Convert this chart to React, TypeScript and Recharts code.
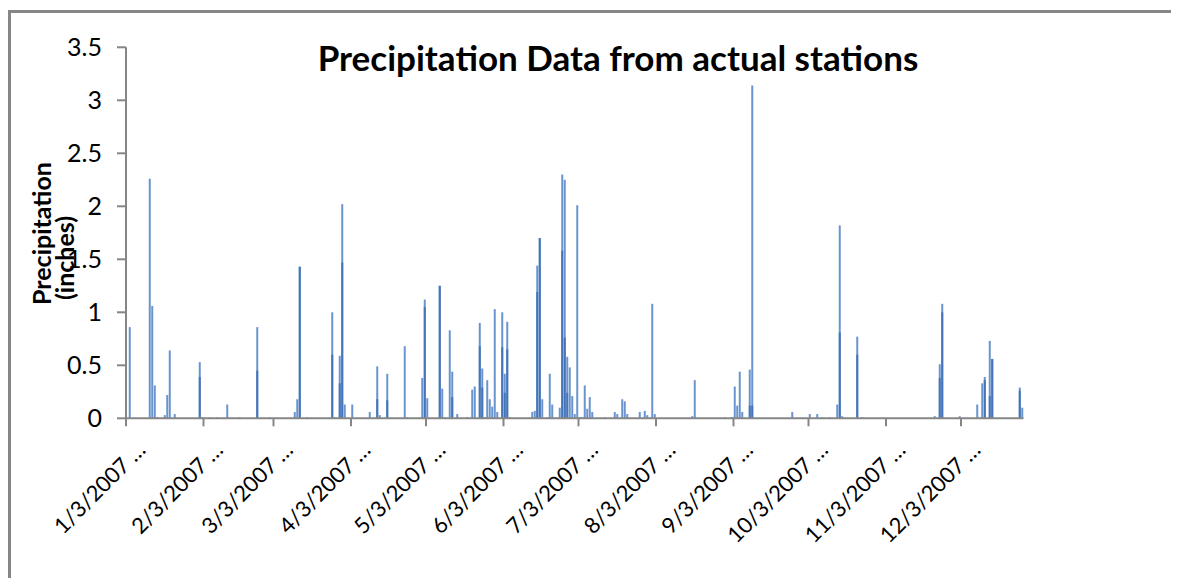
import { BarChart, Bar, XAxis, YAxis } from "recharts"

// daily precipitation readings (inches), dates without a reading are 0
const rainDates = [
  "1/4/2007", "1/12/2007", "1/13/2007", "1/14/2007", "1/15/2007", "1/18/2007", "1/19/2007", "1/20/2007", "1/22/2007",
  "2/1/2007", "2/2/2007", "2/5/2007", "2/8/2007", "2/12/2007", "2/17/2007", "2/24/2007",
  "3/1/2007", "3/11/2007", "3/12/2007", "3/13/2007", "3/16/2007", "3/26/2007", "3/27/2007", "3/29/2007", "3/30/2007", "3/31/2007",
  "4/3/2007", "4/10/2007", "4/13/2007", "4/14/2007", "4/17/2007", "4/24/2007", "4/25/2007",
  "5/1/2007", "5/2/2007", "5/3/2007", "5/8/2007", "5/9/2007", "5/10/2007", "5/12/2007", "5/13/2007", "5/15/2007", "5/19/2007",
  "5/21/2007", "5/22/2007", "5/24/2007", "5/25/2007", "5/26/2007", "5/27/2007", "5/28/2007", "5/29/2007", "5/30/2007", "5/31/2007",
  "6/2/2007", "6/3/2007", "6/4/2007", "6/5/2007", "6/14/2007", "6/15/2007", "6/16/2007", "6/17/2007", "6/18/2007", "6/20/2007",
  "6/21/2007", "6/22/2007", "6/25/2007", "6/26/2007", "6/27/2007", "6/28/2007", "6/29/2007", "6/30/2007",
  "7/1/2007", "7/2/2007", "7/3/2007", "7/4/2007", "7/5/2007", "7/6/2007", "7/7/2007", "7/8/2007", "7/13/2007", "7/17/2007",
  "7/18/2007", "7/20/2007", "7/21/2007", "7/22/2007", "7/27/2007", "7/29/2007", "7/30/2007",
  "8/1/2007", "8/2/2007", "8/17/2007", "8/18/2007", "8/30/2007",
  "9/2/2007", "9/3/2007", "9/4/2007", "9/5/2007", "9/6/2007", "9/9/2007", "9/10/2007", "9/26/2007",
  "10/3/2007", "10/6/2007", "10/8/2007", "10/11/2007", "10/14/2007", "10/15/2007", "10/16/2007", "10/22/2007", "10/24/2007",
  "11/22/2007", "11/24/2007", "11/25/2007",
  "12/2/2007", "12/9/2007", "12/11/2007", "12/12/2007", "12/14/2007", "12/15/2007", "12/26/2007", "12/27/2007",
]
const rainInches = [
  0.86, 2.26, 1.06, 0.31, 0.01, 0.03, 0.22, 0.64, 0.04,
  0.53, 0.01, 0.01, 0.01, 0.13, 0.01, 0.86,
  0.01, 0.06, 0.18, 1.43, 0.01, 1.0, 0.01, 0.59, 2.02, 0.13,
  0.13, 0.06, 0.49, 0.03, 0.42, 0.68, 0.01,
  0.38, 1.12, 0.19, 1.25, 0.28, 0.01, 0.83, 0.44, 0.04, 0.01,
  0.27, 0.3, 0.9, 0.47, 0.01, 0.36, 0.18, 0.11, 1.03, 0.06,
  1.0, 0.42, 0.91, 0.01, 0.06, 0.07, 1.44, 1.7, 0.18, 0.01,
  0.42, 0.13, 0.1, 2.3, 2.25, 0.58, 0.48, 0.21,
  0.04, 2.01, 0.01, 0.01, 0.31, 0.09, 0.2, 0.06, 0.01, 0.06,
  0.04, 0.18, 0.16, 0.04, 0.06, 0.07, 0.03,
  1.08, 0.04, 0.02, 0.36, 0.01,
  0.01, 0.3, 0.12, 0.44, 0.06, 0.46, 3.14, 0.06,
  0.04, 0.04, 0.01, 0.01, 0.13, 1.82, 0.02, 0.77, 0.01,
  0.02, 0.51, 1.08,
  0.02, 0.13, 0.33, 0.39, 0.73, 0.56, 0.29, 0.1,
]

// second reading on the same day (drawn darker, over the first)
const secondDates = [
  "2/1/2007", "2/24/2007", "3/13/2007", "3/26/2007", "3/29/2007", "3/30/2007", "4/13/2007", "4/17/2007",
  "5/2/2007", "5/8/2007", "5/13/2007", "5/24/2007", "5/25/2007", "6/2/2007", "6/3/2007", "6/4/2007",
  "6/16/2007", "6/17/2007", "6/26/2007", "6/27/2007", "6/28/2007", "9/9/2007", "9/10/2007",
  "10/15/2007", "10/22/2007", "11/24/2007", "11/25/2007", "12/12/2007", "12/14/2007", "12/15/2007", "12/26/2007",
]
const secondInches = [
  0.39, 0.45, 1.43, 0.6, 0.33, 1.47, 0.18, 0.17,
  1.05, 1.25, 0.2, 0.68, 0.29, 0.67, 0.24, 0.65,
  1.19, 1.7, 1.58, 0.76, 0.24, 0.12, 0.12,
  0.81, 0.6, 0.38, 1.0, 0.36, 0.21, 0.56, 0.26,
]

const firstDay = new Date(2007, 0, 3)
const lastDay = new Date(2007, 11, 27)

const tickDates = [
  "1/3/2007", "2/3/2007", "3/3/2007", "4/3/2007", "5/3/2007", "6/3/2007",
  "7/3/2007", "8/3/2007", "9/3/2007", "10/3/2007", "11/3/2007", "12/3/2007",
]
const yTicks = [0, 0.5, 1, 1.5, 2, 2.5, 3, 3.5]

const chartData: { date: string; rain: number; second: number }[] = []
for (let d = new Date(firstDay); d <= lastDay; d = new Date(d.getFullYear(), d.getMonth(), d.getDate() + 1)) {
  const label = `${d.getMonth() + 1}/${d.getDate()}/${d.getFullYear()}`
  const i = rainDates.indexOf(label)
  const j = secondDates.indexOf(label)
  chartData.push({ date: label, rain: i >= 0 ? rainInches[i] : 0, second: j >= 0 ? secondInches[j] : 0 })
}

const FONT = "Lato, sans-serif"
const AXIS = "#868686"
const W = 1163
const H = 570

function DateTick(props: any) {
  const { x, y, payload } = props
  if (!tickDates.includes(payload.value)) return null
  const x0 = x - 1.25
  return (
    <g>
      <line x1={x0} x2={x0} y1={y} y2={y + 8} stroke={AXIS} strokeWidth={2} />
      <text
        transform={`translate(${x0 + 21},${y + 33}) rotate(-45)`}
        textAnchor="end"
        fontFamily={FONT}
        fontSize={22}
        fill="#000"
      >
        {payload.value} …
      </text>
    </g>
  )
}

export default function App() {
  return (
    <div style={{ position: "relative", width: W, height: H, overflow: "hidden", background: "#fff" }}>
      <div
        style={{
          position: "absolute",
          left: 0,
          top: 2,
          width: W + 100,
          height: H + 100,
          borderLeft: `3px solid ${AXIS}`,
          borderTop: `3px solid ${AXIS}`,
        }}
      />
      <div style={{ position: "absolute", left: 0, top: 0 }}>
        <BarChart
          width={W}
          height={H}
          data={chartData}
          margin={{ top: 39.3, right: 147.5, left: 58, bottom: 129.7 }}
          barCategoryGap="10%"
          barGap={0}
          accessibilityLayer={false}
        >
          <XAxis
            xAxisId="main"
            dataKey="date"
            interval={0}
            tick={<DateTick />}
            tickLine={false}
            tickSize={0}
            tickMargin={0}
            axisLine={{ stroke: AXIS, strokeWidth: 2 }}
            height={30}
          />
          <XAxis xAxisId="second" dataKey="date" hide />
          <YAxis
            width={60}
            domain={[0, 3.5]}
            ticks={yTicks}
            interval={0}
            tickSize={9}
            tickMargin={15}
            tickLine={{ stroke: AXIS, strokeWidth: 2 }}
            axisLine={{ stroke: AXIS, strokeWidth: 2 }}
            tick={{ fontFamily: FONT, fontSize: 25, fill: "#000" }}
          />
          <Bar xAxisId="main" dataKey="rain" fill="#6a94cf" isAnimationActive={false} />
          <Bar xAxisId="second" dataKey="second" fill="#4574b8" isAnimationActive={false} />
        </BarChart>
      </div>
      <svg width={W} height={H} style={{ position: "absolute", left: 0, top: 0, pointerEvents: "none" }}>
        <text x={610} y={63} textAnchor="middle" fontFamily={FONT} fontWeight="bold" fontSize={35} fill="#000">
          Precipitation Data from actual stations
        </text>
        <text
          transform="translate(43,297) rotate(-90)"
          textAnchor="start"
          fontFamily={FONT}
          fontWeight="bold"
          fontSize={25}
          fill="#000"
        >
          Precipitation
        </text>
        <text
          transform="translate(66,292) rotate(-90)"
          textAnchor="start"
          fontFamily={FONT}
          fontWeight="bold"
          fontSize={25}
          fill="#000"
        >
          (inches)
        </text>
      </svg>
    </div>
  )
}
